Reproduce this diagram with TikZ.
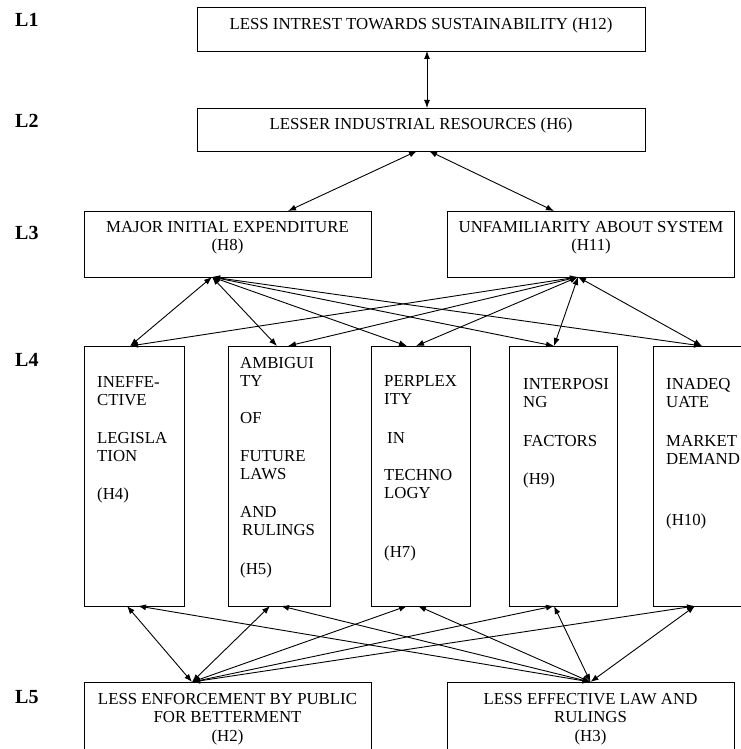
\documentclass[tikz,border=0pt]{standalone}
\usepackage{fontspec}
\setmainfont{Liberation Serif}
\usetikzlibrary{arrows.meta}
\tikzset{>={Latex[width=6pt,length=8pt]}}

\begin{document}
\begin{tikzpicture}[
    x = 1pt, y = -1pt,
    box/.style = {draw, line width=0.9pt, inner sep=0pt, outer sep=0pt},
    txt/.style = {inner sep=0pt, font=\fontsize{16.8}{18}\selectfont},
    lvl/.style = {inner sep=0pt, anchor=base west,
        font=\fontsize{20}{22}\selectfont\bfseries},
    link/.style = {<->, line width=0.9pt}
  ]
  \useasboundingbox (0,0) rectangle (740,749);

  % levels
  \foreach \n/\y in {1/27, 2/128, 3/239, 4/366, 5/703}
    \node[lvl] (L\n) at (15,\y) {L\n};

  % boxes
  \node[box, minimum width=448, minimum height=44] (h12) at (421,29) {};
  \node[box, minimum width=448, minimum height=43] (h6) at (421,129.5) {};
  \node[box, minimum width=287, minimum height=66] (h8) at (227.5,244) {};
  \node[box, minimum width=287, minimum height=66] (h11) at (590.5,244) {};
  \foreach \n/\x/\w in {h4/134/100, h5/279.5/102, h7/420.5/99,
      h9/563/108, h10/706.5/107}
    \node[box, minimum width=\w, minimum height=260] (\n) at (\x,476) {};
  \node[box, minimum width=287, minimum height=80] (h2) at (227.5,722) {};
  \node[box, minimum width=287, minimum height=80] (h3) at (590.5,722) {};

  % texts (base = last line)
  \node[txt, anchor=base] (t12) at (421,30)
    {LESS INTREST TOWARDS SUSTAINABILITY (H12)};
  \node[txt, anchor=base] (t6) at (421,130)
    {LESSER INDUSTRIAL RESOURCES (H6)};
  \node[txt, align=center, anchor=base] (t8) at (227.5,250)
    {MAJOR INITIAL EXPENDITURE\\(H8)};
  \node[txt, align=center, anchor=base] (t11) at (591,250)
    {UNFAMILIARITY ABOUT SYSTEM\\(H11)};
  \node[txt, align=left, anchor=base west] (t4) at (97,499.5)
    {INEFFE-\\CTIVE\\[20.5pt]LEGISLA\\TION\\[20pt](H4)};
  \node[txt, align=left, anchor=base west] (t5) at (240,574)
    {AMBIGUI\\TY\\[19pt]OF\\[20pt]FUTURE\\LAWS\\[20pt]AND\\
     \hspace*{2pt}RULINGS\\[21pt](H5)};
  \node[txt, align=left, anchor=base west] (t7) at (384,557)
    {PERPLEX\\ITY\\[21pt]\hspace*{3pt}IN\\[19pt]TECHNO\\LOGY\\[41pt](H7)};
  \node[txt, align=left, anchor=base west] (t9) at (523,484)
    {INTERPOSI\\NG\\[21pt]FACTORS\\[20pt](H9)};
  \node[txt, align=left, anchor=base west] (t10) at (666,525)
    {INADEQ\\UATE\\[21pt]MARKET\\DEMAND\\[43pt](H10)};
  \node[txt, align=center, anchor=base] (t2) at (227.5,741)
    {LESS ENFORCEMENT BY PUBLIC\\[0.5pt]FOR BETTERMENT\\[0.5pt](H2)};
  \node[txt, align=center, anchor=base] (t3) at (590.5,741)
    {LESS EFFECTIVE LAW AND\\[0.5pt]RULINGS\\[0.5pt](H3)};

  % links
  \draw[link] ([xshift=6pt]h12.south) -- ([xshift=6pt]h6.north);
  \draw[link] ([xshift=-4pt]h6.south) -- ([xshift=60.5pt]h8.north);
  \draw[link] ([xshift=8pt]h6.south) -- ([xshift=-36.5pt]h11.north);

  \coordinate (h8b) at ([xshift=-15.5pt]h8.south);
  \coordinate (h11b) at ([xshift=-12.5pt]h11.south);
  \coordinate (h2t) at ([xshift=-35.5pt]h2.north);
  \coordinate (h3t) at (h3.north);

  \foreach \n/\dx in {h4/-4, h5/-2.5, h7/-13.5, h9/-9, h10/-4.5}
    \draw[link] (h8b) -- ([xshift=\dx pt]\n.north);
  \foreach \n/\dx in {h4/-4, h5/8.5, h7/-4.5, h9/-9, h10/-4.5}
    \draw[link] (h11b) -- ([xshift=\dx pt]\n.north);
  \foreach \n/\dx in {h4/-7, h5/-9.5, h7/-13.5, h9/-9, h10/-11.5}
    \draw[link] (h2t) -- ([xshift=\dx pt]\n.south);
  \foreach \n/\dx in {h4/4, h5/1.5, h7/-2.5, h9/-9, h10/-11.5}
    \draw[link] (h3t) -- ([xshift=\dx pt]\n.south);
\end{tikzpicture}
\end{document}
